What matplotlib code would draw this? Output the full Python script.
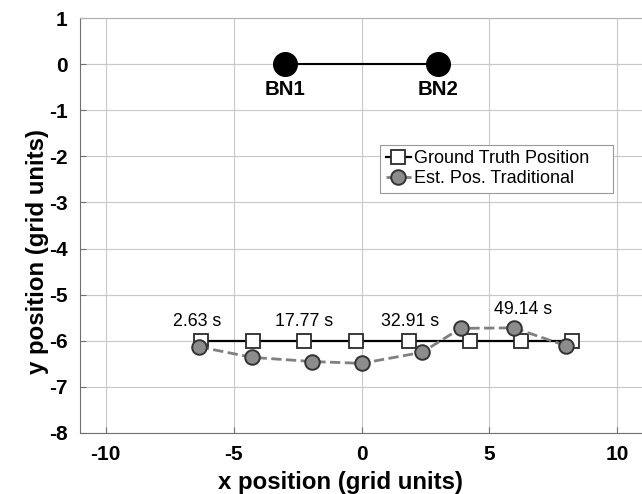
import matplotlib.pyplot as plt
import numpy as np

plt.rcParams['font.family'] = ['Liberation Sans', 'DejaVu Sans']
plt.rcParams['axes.unicode_minus'] = False

# beacon nodes
bn_x = [-3, 3]
bn_y = [0, 0]
bn_names = ['BN1', 'BN2']

# ground truth track (grid units)
gt_x = [-6.29, -4.23, -2.23, -0.2, 1.85, 4.22, 6.24, 8.23]
gt_y = [-6, -6, -6, -6, -6, -6, -6, -6]

# traditional position estimates
est_x = [-6.36, -4.27, -1.93, 0.0, 2.37, 3.87, 5.95, 8.0]
est_y = [-6.13, -6.36, -6.45, -6.49, -6.25, -5.73, -5.72, -6.11]

# time stamps and where they are written
time_labels = ['2.63 s', '17.77 s', '32.91 s', '49.14 s']
time_x = [-6.42, -2.23, 1.91, 6.33]
time_y = [-5.59, -5.59, -5.59, -5.33]

fig = plt.figure(figsize=(6.42, 4.94), dpi=100)
ax = fig.add_axes([0.1246, 0.1235, 0.877, 0.840])

ax.plot(bn_x, bn_y, '-', color='black', lw=1.5, marker='o', ms=17,
        mfc='black', mec='black', zorder=3)
for x, y, name in zip(bn_x, bn_y, bn_names):
    ax.text(x, y - 0.55, name, ha='center', va='center',
            fontsize=14.7, fontweight='bold')

ax.plot(gt_x, gt_y, '-', color='black', lw=1.6, marker='s', ms=9.5,
        mfc='white', mec='#2a2a2a', mew=1.3, zorder=3,
        label='Ground Truth Position')
ax.plot(est_x, est_y, '--', color='#808080', lw=2, marker='o', ms=10.5,
        mfc='#8c8c8c', mec='#333333', mew=1.4, zorder=4,
        label='Est. Pos. Traditional')

for x, y, t in zip(time_x, time_y, time_labels):
    ax.text(x, y, t, ha='center', va='center', fontsize=12.8)

ax.set_xlim(-11, 11)
ax.set_ylim(-8, 1)
ax.set_xticks(np.arange(-10, 11, 5))
ax.set_yticks(np.arange(-8, 2, 1))
ax.grid(True, color='#c8c8c8', lw=0.8)
ax.set_axisbelow(True)

for side in ['left', 'bottom']:
    ax.spines[side].set_color('#707070')
ax.spines['top'].set_color('#b0b0b0')
ax.spines['right'].set_visible(False)
ax.tick_params(direction='in', length=4, color='#707070', labelsize=15,
               width=0.8)
ax.tick_params(axis='y', pad=9)
ax.tick_params(axis='x', pad=9)
for lab in ax.get_xticklabels() + ax.get_yticklabels():
    lab.set_fontweight('bold')

ax.set_xlabel('x position (grid units)', fontsize=17.3, fontweight='bold',
              labelpad=5)
ax.set_ylabel('y position (grid units)', fontsize=17.3, fontweight='bold',
              labelpad=0)
# labels sit a little left of / below the axes centre
ax.xaxis.label.set_x(0.462)
ax.yaxis.label.set_y(0.438)

leg = ax.legend(loc='upper left', bbox_to_anchor=(0.533, 0.583, 0.414, 0.111),
                mode='expand', borderaxespad=0, fontsize=13,
                handlelength=1.4, handletextpad=0.2, borderpad=0.3,
                labelspacing=0.15, fancybox=False, framealpha=1,
                edgecolor='#999999')
leg.get_frame().set_linewidth(0.8)

fig.savefig('out.png', dpi=100)
